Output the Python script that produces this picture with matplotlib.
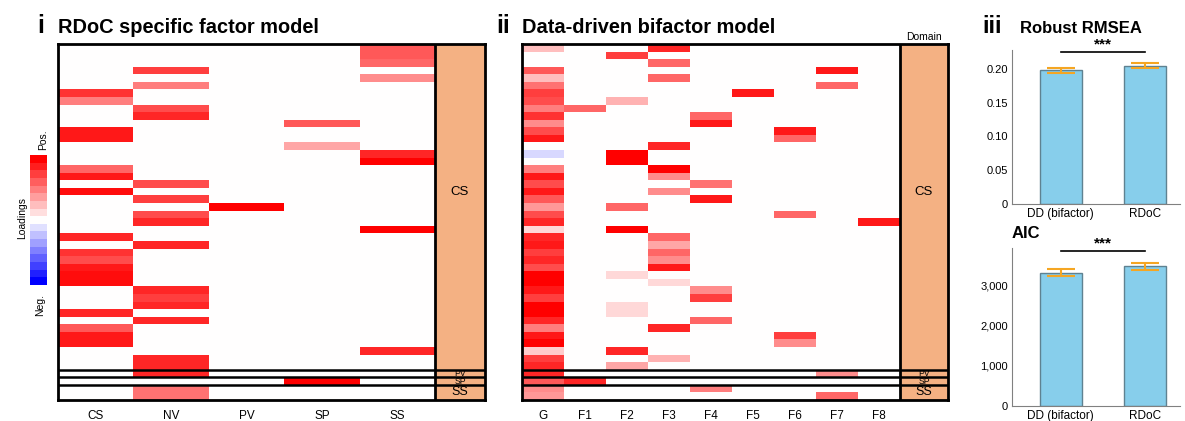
import numpy as np
import matplotlib
matplotlib.use("Agg")
import matplotlib.pyplot as plt
from matplotlib.colors import LinearSegmentedColormap
from matplotlib.patches import Rectangle

plt.rcParams['font.family'] = ['Liberation Sans', 'DejaVu Sans']

W, H = 1185, 421

# item domains (rows, top to bottom)
domains = ["CS", "PV", "SP", "SS"]
domain_sizes = [43, 1, 1, 2]
n_items = sum(domain_sizes)

# RDoC specific factor model: {row: loading}
rdoc_factors = ["CS", "NV", "PV", "SP", "SS"]
rdoc_cs = {6: .8, 7: .5, 11: .9, 12: .9, 16: .6, 17: .9, 19: .95, 25: .85, 27: .8,
           28: .7, 29: .9, 30: .95, 31: .95, 35: .85, 37: .65, 38: .9, 39: .9}
rdoc_nv = {3: .75, 5: .5, 8: .7, 9: .85, 18: .7, 20: .75, 22: .7, 23: .85, 26: .85,
           32: .85, 33: .75, 34: .85, 36: .85, 41: .85, 42: .85, 43: .85, 45: .55, 46: .55}
rdoc_pv = {21: 1.0}
rdoc_sp = {10: .65, 13: .35, 44: 1.0}
rdoc_ss = {0: .65, 1: .65, 2: .6, 4: .45, 14: .85, 15: 1.0, 24: 1.0, 40: .85}

# Data-driven bifactor model
dd_factors = ["G", "F1", "F2", "F3", "F4", "F5", "F6", "F7", "F8"]
dd_g = {0: .25, 3: .65, 4: .25, 5: .55, 6: .75, 7: .7, 8: .5, 9: .8, 10: .45, 11: .7,
        12: .9, 14: -.15, 16: .5, 17: .9, 18: .7, 19: .9, 20: .65, 21: .4, 22: .7,
        23: .85, 24: .15, 25: .85, 26: .9, 27: .75, 28: .85, 29: .7, 30: 1.0, 31: 1.0,
        32: .9, 33: .75, 34: 1.0, 35: 1.0, 36: .85, 37: .5, 38: .9, 39: 1.0, 40: .2,
        41: .75, 42: .85, 43: .85, 44: .65, 45: .45, 46: .4}
dd_f1 = {8: .6, 44: .85}
dd_f2 = {1: .75, 7: .3, 14: 1.0, 15: 1.0, 21: .6, 24: 1.0, 30: .15, 34: .15, 35: .15,
         40: .85, 42: .35}
dd_f3 = {0: .85, 2: .6, 4: .6, 13: .85, 16: 1.0, 17: .45, 19: .45, 25: .6, 26: .35,
         27: .6, 28: .45, 29: .9, 31: .15, 37: .85, 41: .3}
dd_f4 = {9: .6, 10: .9, 18: .55, 20: .9, 32: .45, 33: .75, 36: .6, 45: .5}
dd_f5 = {6: .9}
dd_f6 = {11: .9, 12: .6, 22: .6, 38: .75, 39: .45}
dd_f7 = {3: .9, 5: .6, 43: .45, 46: .6}
dd_f8 = {23: .9}

# model fit
models = ["DD (bifactor)", "RDoC"]
rmsea = [0.198, 0.205]
rmsea_err = [0.0035, 0.0037]
aic = [3310, 3470]
aic_err = [85, 90]

cmap = LinearSegmentedColormap.from_list("load", ["#0000ff", "#ffffff", "#ff0000"])
orange = "#F4B183"


def fx(px):
    return px / W


def fy(py):
    return 1 - py / H


def heatmap(left, right, top, bottom, ncol_px, factors, cols):
    ax = fig.add_axes([fx(left), fy(bottom), fx(right - left), (bottom - top) / H])
    mat = np.zeros((n_items, len(factors)))
    for j, col in enumerate(cols):
        for r, v in col.items():
            mat[r, j] = v
    n = len(factors)
    dom_w = ((right - left) - ncol_px * n) / ncol_px
    ax.pcolormesh(np.arange(n + 1), np.arange(n_items + 1), mat, cmap=cmap,
                  vmin=-1, vmax=1)
    ax.add_patch(Rectangle((n, 0), dom_w, n_items, color=orange, lw=0))
    ax.set_xlim(0, n + dom_w)
    ax.set_ylim(n_items, 0)
    ax.axvline(n, color="black", lw=2)
    edges = np.cumsum(domain_sizes)
    for e in edges[:-1]:
        ax.axhline(e, color="black", lw=1.8)
    starts = np.concatenate([[0], edges[:-1]])
    for d, s, e in zip(domains, starts, edges):
        yc = 19.5 if d == "CS" else (s + e) / 2
        fs = {"CS": 9.5, "SS": 9}.get(d, 6.2)
        ax.text(n + dom_w / 2, yc, d, ha="center", va="center", fontsize=fs)
    ax.set_xticks(np.arange(n) + 0.5)
    ax.set_xticklabels(factors, fontsize=8.5)
    ax.tick_params(length=0, pad=7)
    ax.set_yticks([])
    for s in ax.spines.values():
        s.set_linewidth(2)
    return ax


fig = plt.figure(figsize=(W / 100, H / 100), dpi=100)

# panel i
heatmap(58, 485, 44, 400, 75.4, rdoc_factors, [rdoc_cs, rdoc_nv, rdoc_pv, rdoc_sp, rdoc_ss])
fig.text(fx(37), fy(33), "i", fontsize=18, fontweight="bold", va="baseline")
fig.text(fx(58), fy(33), "RDoC specific factor model", fontsize=14.4, fontweight="bold", va="baseline")

# panel ii
heatmap(522, 948, 44, 400, 42.0, dd_factors,
        [dd_g, dd_f1, dd_f2, dd_f3, dd_f4, dd_f5, dd_f6, dd_f7, dd_f8])
fig.text(fx(496), fy(33), "ii", fontsize=18, fontweight="bold", va="baseline")
fig.text(fx(522), fy(33), "Data-driven bifactor model", fontsize=14.4, fontweight="bold", va="baseline")
fig.text(fx(924), fy(40), "Domain", fontsize=7.5, ha="center", va="baseline")

# loadings legend
lg = fig.add_axes([fx(30), fy(285), fx(17), 130 / H])
steps = np.concatenate([np.linspace(1, 0.125, 8), [0], np.linspace(-0.125, -1, 8)])
lg.pcolormesh([0, 1], np.arange(len(steps) + 1), steps[:, None], cmap=cmap, vmin=-1, vmax=1)
lg.set_ylim(len(steps), 0)
lg.axis("off")
fig.text(fx(43), fy(140), "Pos.", rotation=90, fontsize=7.5, ha="center", va="center")
fig.text(fx(40), fy(305), "Neg.", rotation=90, fontsize=7.5, ha="center", va="center")
fig.text(fx(22), fy(218), "Loadings", rotation=90, fontsize=7.5, ha="center", va="center")


# panel iii
def fit_bars(top, bottom, vals, errs, ymax, sig_y, ticks, labels):
    ax = fig.add_axes([fx(1012), fy(bottom), fx(168), (bottom - top) / H])
    x = np.arange(len(models))
    ax.bar(x, vals, width=0.5, color="#87CEEB", edgecolor="#5f8291", lw=1)
    ax.errorbar(x, vals, yerr=errs, fmt="none", ecolor="#F5A623", capsize=10,
                elinewidth=1.5, capthick=1.5)
    ax.set_xlim(-0.58, 1.42)
    ax.set_ylim(0, ymax)
    ax.set_yticks(ticks)
    ax.set_yticklabels(labels, fontsize=8)
    ax.set_xticks(x)
    ax.set_xticklabels(models, fontsize=8.5)
    ax.tick_params(length=0, pad=3)
    for s in ["top", "right"]:
        ax.spines[s].set_visible(False)
    for s in ["left", "bottom"]:
        ax.spines[s].set_color("#808080")
    ax.plot([0, 1], [sig_y, sig_y], color="black", lw=1.2, clip_on=False)
    ax.text(0.5, sig_y, "***", ha="center", va="bottom", fontsize=11, fontweight="bold")
    return ax


fit_bars(50, 204, rmsea, rmsea_err, 0.228, 0.2255,
         [0, 0.05, 0.10, 0.15, 0.20], ["0", "0.05", "0.10", "0.15", "0.20"])
fig.text(fx(982), fy(33), "iii", fontsize=17, fontweight="bold", va="baseline")
fig.text(fx(1020), fy(33), "Robust RMSEA", fontsize=12, fontweight="bold", va="baseline")

fit_bars(248, 405.7, aic, aic_err, 3923, 3850,
         [0, 1000, 2000, 3000], ["0", "1,000", "2,000", "3,000"])
fig.text(fx(1012), fy(238), "AIC", fontsize=12, fontweight="bold", va="baseline")

fig.savefig("out.png", dpi=100)
